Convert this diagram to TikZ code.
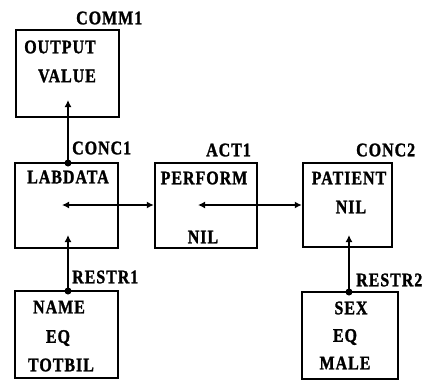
\documentclass[tikz,border=0pt]{standalone}
\usepackage{fontspec}
\newfontfamily\diagfont[LetterSpace=6,BoldFeatures={FakeBold=1.5}]{Liberation Serif}
\usetikzlibrary{arrows.meta}
\begin{document}
\begin{tikzpicture}[x=1pt,y=-1pt,
  box/.style={draw,line width=2.4pt,rectangle,inner sep=0pt},
  txt/.style={font=\diagfont\bfseries\fontsize{16}{16}\selectfont,inner sep=0pt,anchor=center,yscale=1.2},
  conn/.style={line width=2.4pt},
  tip/.style={-{Latex[length=7pt,width=7pt]}},
  dtip/.style={{Latex[length=7pt,width=7pt]}-{Latex[length=7pt,width=7pt]}},
  dot/.style={circle,fill,inner sep=0pt,minimum size=7pt}]
\useasboundingbox (0,0) rectangle (434,381);
% boxes
\node[box,minimum width=103pt,minimum height=87pt] (comm1) at (67.5,73.5) {};
\node[box,minimum width=103pt,minimum height=85pt] (conc1) at (66.5,205.5) {};
\node[box,minimum width=102pt,minimum height=85pt] (act1) at (206,205.5) {};
\node[box,minimum width=89pt,minimum height=84pt] (conc2) at (347.5,205) {};
\node[box,minimum width=103pt,minimum height=87pt] (restr1) at (66.5,334.5) {};
\node[box,minimum width=96pt,minimum height=87pt] (restr2) at (350,335.5) {};
% labels
\node[txt,anchor=west] (lcomm1) at (76,18) {COMM1};
\node[txt,anchor=west] (lconc1) at (72,148) {CONC1};
\node[txt,anchor=west] (lact1) at (206,150) {ACT1};
\node[txt,anchor=west] (lconc2) at (356,150) {CONC2};
\node[txt,anchor=west] (lrestr1) at (72,277) {RESTR1};
\node[txt,anchor=west] (lrestr2) at (356,280) {RESTR2};
% box texts
\node[txt] (t1) at (60,47) {OUTPUT};
\node[txt] (t2) at (67,76) {VALUE};
\node[txt] (t3) at (68,177) {LABDATA};
\node[txt] (t4) at (204,178) {PERFORM};
\node[txt] (t5) at (203,237) {NIL};
\node[txt] (t6) at (349,178) {PATIENT};
\node[txt] (t7) at (351,207) {NIL};
\node[txt] (t8) at (59,307) {NAME};
\node[txt] (t9) at (58,338) {EQ};
\node[txt] (t10) at (61,365) {TOTBIL};
\node[txt] (t11) at (351,308) {SEX};
\node[txt] (t12) at (345,337) {EQ};
\node[txt] (t13) at (345,363) {MALE};
% connector points
\coordinate (comm1in) at (68,100);
\coordinate (c1top) at (68,163);
\coordinate (c1mid) at (62,205);
\coordinate (c1bot) at (68,235);
\coordinate (r1top) at (68,291);
\coordinate (a1mid) at (198,205);
\coordinate (c2bot) at (349,235);
\coordinate (r2top) at (349,292);
% connectors
\draw[conn,tip] (c1top) -- (comm1in);
\node[dot] (d1) at (c1top) {};
\draw[conn,dtip] (c1mid) -- (act1.west |- c1mid);
\draw[conn,dtip] (a1mid) -- (conc2.west |- a1mid);
\draw[conn,tip] (r1top) -- (c1bot);
\node[dot] (d2) at (r1top) {};
\draw[conn,tip] (r2top) -- (c2bot);
\node[dot] (d3) at (r2top) {};
\end{tikzpicture}
\end{document}
